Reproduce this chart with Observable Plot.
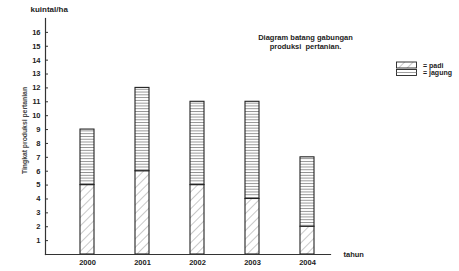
<!DOCTYPE html>
<html>
<head>
<meta charset="utf-8">
<script src="https://cdn.jsdelivr.net/npm/d3@7"></script>
<script src="https://cdn.jsdelivr.net/npm/@observablehq/plot@0.6"></script>
<style>
  body { margin: 0; background: #fff; }
  svg { font-family: "Liberation Sans", Arial, sans-serif; }
</style>
</head>
<body>
<div id="chart"></div>
<script>
const years = ["2000", "2001", "2002", "2003", "2004"];
const padi = [5, 6, 5, 4, 2];
const jagung = [4, 6, 6, 7, 5];
const yTicks = [1,2,3,4,5,6,7,8,9,10,11,12,13,14,15,16];
const seriesNames = ["padi", "jagung"];
const titleLines = ["Diagram batang gabungan", "produksi  pertanian."];

const rows = years.map((y, i) => ({year: y, padi: padi[i], jagung: jagung[i]}));

const defs = () => {
  const ns = "http://www.w3.org/2000/svg";
  const g = document.createElementNS(ns, "defs");
  g.innerHTML = `
    <pattern id="hatch" patternUnits="userSpaceOnUse" width="6" height="6" patternTransform="rotate(45)">
      <rect width="6" height="6" fill="#fff"/>
      <line x1="0" y1="0" x2="0" y2="6" stroke="#888" stroke-width="0.9"/>
    </pattern>
    <pattern id="horiz" patternUnits="userSpaceOnUse" width="6" height="2.775">
      <rect width="6" height="2.775" fill="#fff"/>
      <line x1="0" y1="0.5" x2="6" y2="0.5" stroke="#777" stroke-width="0.8"/>
    </pattern>`;
  return g;
};

const txt = {fontSize: 7.5, fontWeight: "bold", fill: "#222"};

const chart = Plot.plot({
  width: 459,
  height: 271,
  marginLeft: 45,
  marginRight: 129,
  marginTop: 18,
  marginBottom: 17,
  style: {fontFamily: "Liberation Sans, Arial, sans-serif", background: "#fff"},
  x: {type: "band", domain: years, range: [58.4, 334.6], paddingInner: 0.747, paddingOuter: 0.3735, label: null},
  y: {domain: [0, 17], label: null},
  marks: [
    defs,
    Plot.barY(rows, {x: "year", y1: 0, y2: "padi", fill: "url(#hatch)", stroke: "#222", strokeWidth: 1.1}),
    Plot.barY(rows, {x: "year", y1: "padi", y2: d => d.padi + d.jagung, fill: "url(#horiz)", stroke: "#222", strokeWidth: 1.1}),
    Plot.frame({anchor: "left", stroke: "#333", strokeWidth: 1.2}),
    Plot.frame({anchor: "bottom", stroke: "#333", strokeWidth: 1.2}),
    Plot.axisY({ticks: yTicks, tickSize: -3, tickFormat: () => "", stroke: "#333"}),
    Plot.axisY({ticks: yTicks, tickSize: 0, tickPadding: 5, ...txt}),
    Plot.axisX({tickSize: 0, tickPadding: 5, ...txt}),
    Plot.text(["kuintal/ha"], {frameAnchor: "top-left", dx: -15, dy: -9, textAnchor: "start", lineAnchor: "middle", ...txt, fontSize: 8}),
    Plot.text(["Tingkat produksi pertanian"], {frameAnchor: "left", textAnchor: "middle", dx: -21, dy: -6, rotate: -90, fontSize: 6.8, fontWeight: "bold", fill: "#444"}),
    Plot.text(["tahun"], {frameAnchor: "bottom-right", textAnchor: "start", dx: 13, dy: 0, lineAnchor: "middle", ...txt}),
    Plot.text([titleLines[0]], {frameAnchor: "top-left", textAnchor: "middle", dx: 260, dy: 19, lineAnchor: "middle", ...txt}),
    Plot.text([titleLines[1]], {frameAnchor: "top-left", textAnchor: "middle", dx: 260, dy: 28, lineAnchor: "middle", ...txt})
  ]
});
document.getElementById("chart").appendChild(chart);

// Legend swatches built from the series names
const ns = "http://www.w3.org/2000/svg";
const lg = document.createElementNS(ns, "g");
lg.setAttribute("transform", "translate(396,61.5)");
const rowH = 7.5;
seriesNames.forEach((name, i) => {
  const r = document.createElementNS(ns, "rect");
  r.setAttribute("x", 0.5); r.setAttribute("y", i * rowH + 0.5);
  r.setAttribute("width", 20); r.setAttribute("height", 6);
  r.setAttribute("fill", i === 0 ? "url(#hatch)" : "#fff");
  r.setAttribute("stroke", "#222"); r.setAttribute("stroke-width", 0.9);
  lg.appendChild(r);
  if (i === 1) {
    const l = document.createElementNS(ns, "line");
    l.setAttribute("x1", 0.5); l.setAttribute("x2", 20.5);
    l.setAttribute("y1", i * rowH + 3.5); l.setAttribute("y2", i * rowH + 3.5);
    l.setAttribute("stroke", "#777"); l.setAttribute("stroke-width", 0.7);
    lg.appendChild(l);
  }
  const t = document.createElementNS(ns, "text");
  t.setAttribute("x", 27); t.setAttribute("y", i * rowH + 6);
  t.setAttribute("font-size", 7); t.setAttribute("font-weight", "bold");
  t.setAttribute("fill", "#222");
  t.setAttribute("text-anchor", "start");
  t.textContent = "= " + name;
  lg.appendChild(t);
});
chart.appendChild(lg);
</script>
</body>
</html>
